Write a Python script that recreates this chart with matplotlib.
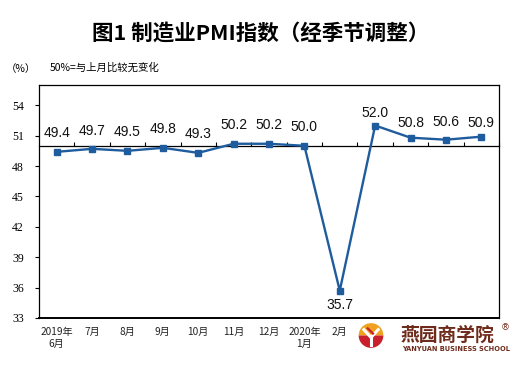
import matplotlib
matplotlib.use("Agg")
import matplotlib.pyplot as plt
from matplotlib.patches import Wedge, Rectangle
from matplotlib.transforms import blended_transform_factory
import numpy as np

months = ["2019年\n6月", "7月", "8月", "9月", "10月", "11月", "12月",
          "2020年\n1月", "2月", "3月", "4月", "5月", "6月"]
pmi = [49.4, 49.7, 49.5, 49.8, 49.3, 50.2, 50.2, 50.0, 35.7, 52.0, 50.8, 50.6, 50.9]
yticks = [33, 36, 39, 42, 45, 48, 51, 54]
# label offsets above (+) / below (-) points, in pixels
label_off = [19, 18, 19, 19, 19, 19, 19, 19, -14, 12.5, 15, 18, 14]

CJK = ["Noto Sans CJK SC", "DejaVu Sans"]
plt.rcParams['font.family'] = CJK

fig = plt.figure(figsize=(5.23, 3.67), dpi=100)
ax = fig.add_axes([39/523, 1-318/367, 460/523, 233/367])

x = np.arange(len(pmi))
color = "#1f5c9e"
ax.plot(x, pmi, color=color, lw=1.7, marker='s', ms=3.8, zorder=3)

ax.set_xlim(-0.5, len(pmi) - 0.5)
ax.set_ylim(33, 56)

# y axis
ax.set_yticks(yticks)
ax.set_yticklabels([str(v) for v in yticks], family="Liberation Serif", fontsize=8.5)
ax.tick_params(axis='y', direction='out', length=3, width=0.8, pad=8)

# x axis line at 50 with category boundary ticks pointing up
ax.spines['bottom'].set_position(('data', 50))
ax.spines['bottom'].set_linewidth(0.9)
ax.set_xticks(np.arange(len(pmi)) + 0.5)
ax.set_xticklabels([])
ax.tick_params(axis='x', direction='in', length=3, width=0.8, pad=0)
for s in ['left', 'top', 'right']:
    ax.spines[s].set_linewidth(0.9)
# bottom frame line
ax.axhline(33, color='black', lw=1.4, clip_on=False, zorder=4)

# category labels at bottom
tr = blended_transform_factory(ax.transData, fig.transFigure)
for i, m in enumerate(months):
    ax.text(i, 1-327/367, m, transform=tr, ha='center', va='top', fontsize=7.3,
            linespacing=1.25, color='#222222', family=CJK)

# data labels
for i, v in enumerate(pmi):
    ax.annotate(f"{v:.1f}", (i, v), xytext=(0, label_off[i]*0.72), textcoords='offset points',
                ha='center', va='center', fontsize=10, family="Liberation Sans", color='#111111')

# titles
fig.text(261/523, 1-33/367, "图1 制造业PMI指数（经季节调整）", ha='center', va='center',
         fontsize=15.5, fontweight='bold', family=CJK)
fig.text(6/523, 1-69/367, "（%）", ha='left', va='center', fontsize=7.5, family=CJK)
fig.text(50/523, 1-68/367, "50%=与上月比较无变化", ha='left', va='center', fontsize=7.5, family=CJK)

# watermark logo
fig.patches.append(Rectangle((356/523, 1-360/367), 160/523, 40/367, transform=fig.transFigure,
                             facecolor='white', edgecolor='none', zorder=5))
lax = fig.add_axes([(371-13)/523, 1-(335.5+13)/367, 26/523, 26/367], zorder=6)
lax.set_xlim(-1, 1); lax.set_ylim(-1, 1); lax.axis('off')
lax.add_patch(Wedge((0, 0), 0.95, 0, 180, facecolor='#f0a21e', edgecolor='none'))
lax.add_patch(Wedge((0, 0), 0.95, 180, 360, facecolor='#c8202c', edgecolor='none'))
lax.plot([-0.55, 0.0, 0.55], [0.45, -0.15, 0.45], color='white', lw=2.2)
lax.plot([0.0, 0.0], [-0.15, -0.7], color='white', lw=2.2)
lax.plot([-0.25, 0.15], [0.55, 0.15], color='#c8202c', lw=1.6)
fig.text(401/523, 1-335/367, "燕园商学院", ha='left', va='center', fontsize=13.5,
         fontweight='bold', color='#6e2b1b', family=CJK, zorder=7)
fig.text(402/523, 1-349/367, "YANYUAN BUSINESS SCHOOL", ha='left', va='center', fontsize=4.8,
         fontweight='bold', color='#6e2b1b', family="DejaVu Sans", zorder=7)
fig.text(505/523, 1-328/367, "®", ha='center', va='center', fontsize=6.5,
         color='#6e2b1b', family="DejaVu Sans", zorder=7)

fig.savefig("out.png", dpi=100)
